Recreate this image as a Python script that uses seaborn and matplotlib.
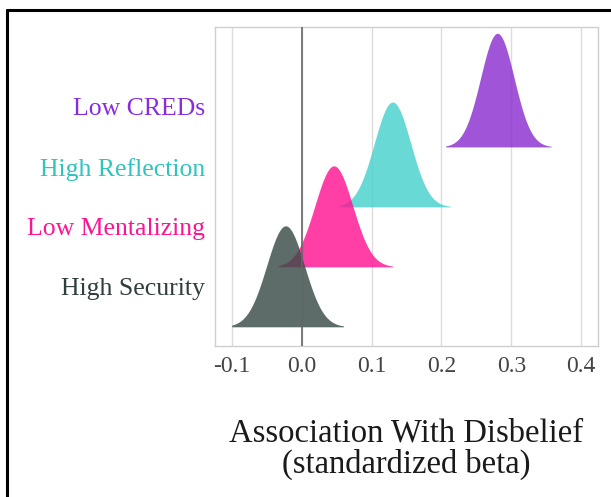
import numpy as np
import matplotlib
matplotlib.use("Agg")
import matplotlib.pyplot as plt
from matplotlib.lines import Line2D
import seaborn as sns

# ------------------------------------------
# Dados
# ------------------------------------------
grupos = ["High Security", "Low Mentalizing", "High Reflection", "Low CREDs"]
picos = [-0.023, 0.046, 0.130, 0.280]        # moda de cada distribuição
desvios = [0.027, 0.027, 0.026, 0.024]       # desvio-padrão aproximado
minimos = [-0.100, -0.033, 0.054, 0.206]     # início da cauda esquerda
maximos = [0.060, 0.130, 0.213, 0.357]       # fim da cauda direita
ticks_x = [-0.1, 0.0, 0.1, 0.2, 0.3, 0.4]

cores_preench = ["#3a4c48", "#ff1493", "#48d1cc", "#8b2fd0"]
cores_texto = ["#2f3f3d", "#ff1493", "#2ec4c0", "#8a2be2"]
escala = 0.114  # altura das cristas (unidades de y por densidade)

sns.set_theme(style="whitegrid")
plt.rcParams["font.family"] = ["Liberation Serif", "DejaVu Serif"]

fig = plt.figure(figsize=(6.11, 4.97), dpi=100)
ax = fig.add_axes([215 / 611, 1 - 346 / 497, 383 / 611, 319 / 497])

# desenha de cima para baixo, para as cristas de baixo ficarem por cima
for i in range(len(grupos) - 1, -1, -1):
    xs = np.linspace(minimos[i], maximos[i], 300)
    dens = np.exp(-0.5 * ((xs - picos[i]) / desvios[i]) ** 2) / (desvios[i] * np.sqrt(2 * np.pi))
    ax.fill_between(xs, i, i + escala * dens, color=cores_preench[i], alpha=0.82,
                    linewidth=0, zorder=3 + (len(grupos) - i))

ax.axvline(0, color="#666666", linewidth=1.2, zorder=10)

ax.set_xlim(-0.124, 0.424)
ax.set_ylim(-0.32, 5.0)
ax.set_xticks(ticks_x)
ax.set_xticklabels([f"{t:.1f}" for t in ticks_x])
ax.set_yticks([i + 0.67 for i in range(len(grupos))])
ax.set_yticklabels(grupos)
for lbl, c in zip(ax.get_yticklabels(), cores_texto):
    lbl.set_color(c)

ax.yaxis.grid(False)
ax.xaxis.grid(True, color="#dcdcdc", linewidth=1.0)
ax.set_facecolor("white")
for s in ax.spines.values():
    s.set_color("#cfcfcf")
    s.set_linewidth(1.0)
ax.tick_params(axis="both", length=0)
ax.tick_params(axis="x", labelsize=17, pad=7, labelcolor="#444444")
ax.tick_params(axis="y", labelsize=18.5, pad=7)

ax.set_xlabel("Association With Disbelief\n(standardized beta)", fontsize=23.5,
              color="#1a1a1a", labelpad=30, linespacing=1.0)

# moldura preta (topo e esquerda) do recorte original
fig.add_artist(Line2D([7.5 / 611, 1], [1 - 10 / 497, 1 - 10 / 497],
                      transform=fig.transFigure, color="black", linewidth=2.2))
fig.add_artist(Line2D([7.5 / 611, 7.5 / 611], [0, 1 - 10 / 497],
                      transform=fig.transFigure, color="black", linewidth=2.2))

fig.savefig("out.png", dpi=100, facecolor="white")
